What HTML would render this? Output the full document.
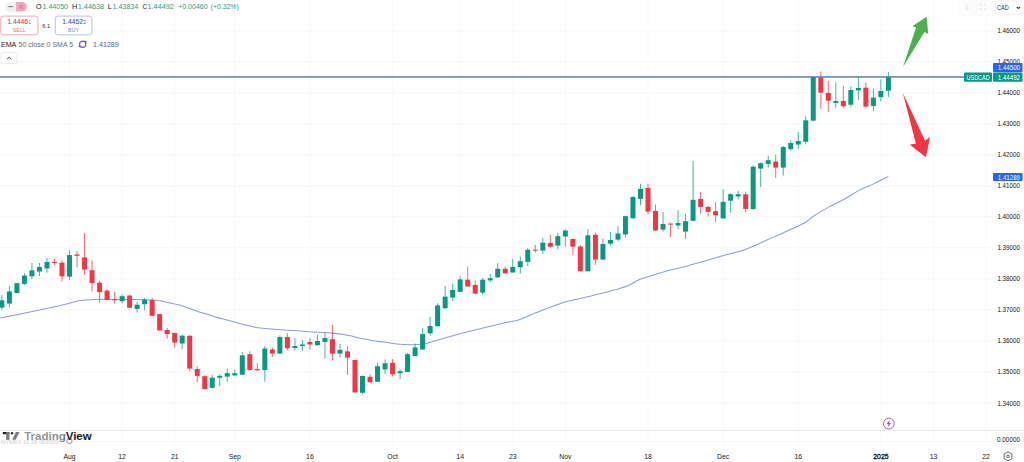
<!DOCTYPE html>
<html><head><meta charset="utf-8"><title>USDCAD chart</title>
<style>
html,body{margin:0;padding:0;background:#fff;}
body{width:1024px;height:462px;overflow:hidden;position:relative;font-family:"Liberation Sans",sans-serif;}
svg{position:absolute;left:0;top:0;}
svg text{font-family:"Liberation Sans",sans-serif;}
</style></head><body>
<svg width="1024" height="462" viewBox="0 0 1024 462">
<rect x="0" y="0" width="1024" height="462" fill="#ffffff"/>

<g stroke="#f5f5f5" stroke-width="1">
<line x1="0" y1="30.80" x2="992" y2="30.80"/>
<line x1="0" y1="61.81" x2="992" y2="61.81"/>
<line x1="0" y1="92.82" x2="992" y2="92.82"/>
<line x1="0" y1="123.82" x2="992" y2="123.82"/>
<line x1="0" y1="154.83" x2="992" y2="154.83"/>
<line x1="0" y1="185.84" x2="992" y2="185.84"/>
<line x1="0" y1="216.85" x2="992" y2="216.85"/>
<line x1="0" y1="247.86" x2="992" y2="247.86"/>
<line x1="0" y1="278.86" x2="992" y2="278.86"/>
<line x1="0" y1="309.87" x2="992" y2="309.87"/>
<line x1="0" y1="340.88" x2="992" y2="340.88"/>
<line x1="0" y1="371.89" x2="992" y2="371.89"/>
<line x1="0" y1="402.90" x2="992" y2="402.90"/>
</g><g stroke="#f9f9f9" stroke-width="1">
<line x1="69.50" y1="0" x2="69.50" y2="446"/>
<line x1="122.09" y1="0" x2="122.09" y2="446"/>
<line x1="174.68" y1="0" x2="174.68" y2="446"/>
<line x1="234.78" y1="0" x2="234.78" y2="446"/>
<line x1="309.91" y1="0" x2="309.91" y2="446"/>
<line x1="392.56" y1="0" x2="392.56" y2="446"/>
<line x1="460.17" y1="0" x2="460.17" y2="446"/>
<line x1="512.76" y1="0" x2="512.76" y2="446"/>
<line x1="565.36" y1="0" x2="565.36" y2="446"/>
<line x1="648.00" y1="0" x2="648.00" y2="446"/>
<line x1="723.13" y1="0" x2="723.13" y2="446"/>
<line x1="798.26" y1="0" x2="798.26" y2="446"/>
<line x1="880.90" y1="0" x2="880.90" y2="446"/>
<line x1="933.49" y1="0" x2="933.49" y2="446"/>
<line x1="986.08" y1="0" x2="986.08" y2="446"/>
</g>
<rect x="958" y="0" width="36" height="16" fill="#fcfcfc"/>
<line x1="0" y1="430.5" x2="1024" y2="430.5" stroke="#ebebeb" stroke-width="1"/>
<line x1="0" y1="441.5" x2="992" y2="441.5" stroke="#f7f7f7" stroke-width="1"/>
<path d="M0.00,318.10 C4.17,317.27 16.67,314.82 25.00,313.10 C33.33,311.38 42.50,309.47 50.00,307.80 C57.50,306.13 65.00,304.30 70.00,303.10 C75.00,301.90 75.83,301.22 80.00,300.60 C84.17,299.98 89.58,299.60 95.00,299.40 C100.42,299.20 107.00,299.38 112.50,299.40 C118.00,299.42 121.25,299.40 128.00,299.50 C134.75,299.60 146.75,299.60 153.00,300.00 C159.25,300.40 160.92,301.02 165.50,301.90 C170.08,302.78 176.33,304.15 180.50,305.30 C184.67,306.45 186.75,307.50 190.50,308.80 C194.25,310.10 198.83,311.75 203.00,313.10 C207.17,314.45 211.33,315.70 215.50,316.90 C219.67,318.10 223.83,319.15 228.00,320.30 C232.17,321.45 235.83,322.62 240.50,323.80 C245.17,324.98 251.33,326.57 256.00,327.40 C260.67,328.23 264.33,328.40 268.50,328.80 C272.67,329.20 276.83,329.50 281.00,329.80 C285.17,330.10 289.33,330.32 293.50,330.60 C297.67,330.88 301.83,331.22 306.00,331.50 C310.17,331.78 314.33,332.03 318.50,332.30 C322.67,332.57 326.83,332.75 331.00,333.10 C335.17,333.45 339.75,333.83 343.50,334.40 C347.25,334.97 350.42,335.80 353.50,336.50 C356.58,337.20 358.45,337.85 362.00,338.60 C365.55,339.35 371.13,340.42 374.80,341.00 C378.47,341.58 380.30,341.60 384.00,342.10 C387.70,342.60 392.67,343.55 397.00,344.00 C401.33,344.45 405.67,344.78 410.00,344.80 C414.33,344.82 418.67,344.80 423.00,344.10 C427.33,343.40 431.67,341.82 436.00,340.60 C440.33,339.38 444.67,338.02 449.00,336.80 C453.33,335.58 457.67,334.43 462.00,333.30 C466.33,332.17 470.67,331.08 475.00,330.00 C479.33,328.92 483.70,327.83 488.00,326.80 C492.30,325.77 496.80,324.70 500.80,323.80 C504.80,322.90 509.05,322.05 512.00,321.40 C514.95,320.75 514.17,321.48 518.50,319.90 C522.83,318.32 530.42,314.85 538.00,311.90 C545.58,308.95 557.50,304.32 564.00,302.20 C570.50,300.08 572.67,300.18 577.00,299.20 C581.33,298.22 585.67,297.32 590.00,296.30 C594.33,295.28 598.67,294.22 603.00,293.10 C607.33,291.98 611.67,290.90 616.00,289.60 C620.33,288.30 625.00,287.03 629.00,285.30 C633.00,283.57 636.00,280.88 640.00,279.20 C644.00,277.52 648.67,276.52 653.00,275.20 C657.33,273.88 660.60,272.75 666.00,271.30 C671.40,269.85 678.90,268.23 685.40,266.50 C691.90,264.77 698.50,262.77 705.00,260.90 C711.50,259.03 717.92,257.13 724.40,255.30 C730.88,253.47 738.50,251.67 743.90,249.90 C749.30,248.13 752.78,246.43 756.80,244.70 C760.82,242.97 763.62,241.47 768.00,239.50 C772.38,237.53 777.03,235.65 783.10,232.90 C789.17,230.15 799.35,225.78 804.40,223.00 C809.45,220.22 809.37,218.85 813.40,216.20 C817.43,213.55 823.55,209.88 828.60,207.10 C833.65,204.32 838.65,202.28 843.70,199.50 C848.75,196.72 853.85,193.05 858.90,190.40 C863.95,187.75 869.08,185.93 874.00,183.60 C878.92,181.27 886.00,177.60 888.40,176.40" fill="none" stroke="#8c9ed8" stroke-width="1.05" stroke-linejoin="round"/>
<rect x="1.38" y="295.20" width="1" height="14.40" fill="#089981" opacity="0.75"/>
<rect x="-0.62" y="300.30" width="5.00" height="7.30" fill="#089981"/>
<rect x="8.89" y="286.20" width="1" height="21.20" fill="#089981" opacity="0.75"/>
<rect x="6.89" y="291.50" width="5.00" height="12.10" fill="#089981"/>
<rect x="16.41" y="283.00" width="1" height="10.20" fill="#089981" opacity="0.75"/>
<rect x="14.41" y="283.20" width="5.00" height="9.80" fill="#089981"/>
<rect x="23.92" y="273.30" width="1" height="11.80" fill="#089981" opacity="0.75"/>
<rect x="21.92" y="275.60" width="5.00" height="8.30" fill="#089981"/>
<rect x="31.43" y="263.00" width="1" height="16.00" fill="#089981" opacity="0.75"/>
<rect x="29.43" y="270.30" width="5.00" height="6.00" fill="#089981"/>
<rect x="38.95" y="263.00" width="1" height="13.00" fill="#089981" opacity="0.75"/>
<rect x="36.95" y="267.00" width="5.00" height="4.50" fill="#089981"/>
<rect x="46.46" y="257.90" width="1" height="14.70" fill="#089981" opacity="0.75"/>
<rect x="44.46" y="262.00" width="5.00" height="6.50" fill="#089981"/>
<rect x="53.97" y="258.50" width="1" height="6.90" fill="#f23645" opacity="0.75"/>
<rect x="51.97" y="262.00" width="5.00" height="1.00" fill="#f23645"/>
<rect x="61.48" y="260.40" width="1" height="21.20" fill="#f23645" opacity="0.75"/>
<rect x="59.48" y="262.70" width="5.00" height="13.60" fill="#f23645"/>
<rect x="69.00" y="250.60" width="1" height="29.50" fill="#089981" opacity="0.75"/>
<rect x="67.00" y="255.10" width="5.00" height="21.50" fill="#089981"/>
<rect x="76.51" y="250.90" width="1" height="16.40" fill="#f23645" opacity="0.75"/>
<rect x="74.51" y="254.40" width="5.00" height="1.40" fill="#f23645"/>
<rect x="84.02" y="233.20" width="1" height="41.60" fill="#f23645" opacity="0.75"/>
<rect x="82.02" y="257.40" width="5.00" height="12.10" fill="#f23645"/>
<rect x="91.54" y="260.30" width="1" height="31.10" fill="#f23645" opacity="0.75"/>
<rect x="89.54" y="270.20" width="5.00" height="12.90" fill="#f23645"/>
<rect x="99.05" y="281.00" width="1" height="21.70" fill="#f23645" opacity="0.75"/>
<rect x="97.05" y="282.70" width="5.00" height="9.40" fill="#f23645"/>
<rect x="106.56" y="289.00" width="1" height="11.40" fill="#f23645" opacity="0.75"/>
<rect x="104.56" y="290.60" width="5.00" height="9.10" fill="#f23645"/>
<rect x="114.07" y="291.80" width="1" height="11.70" fill="#f23645" opacity="0.75"/>
<rect x="112.07" y="299.20" width="5.00" height="1.00" fill="#f23645"/>
<rect x="121.59" y="294.40" width="1" height="9.10" fill="#089981" opacity="0.75"/>
<rect x="119.59" y="296.20" width="5.00" height="5.00" fill="#089981"/>
<rect x="129.10" y="294.70" width="1" height="13.30" fill="#f23645" opacity="0.75"/>
<rect x="127.10" y="295.60" width="5.00" height="12.10" fill="#f23645"/>
<rect x="136.61" y="302.00" width="1" height="10.50" fill="#089981" opacity="0.75"/>
<rect x="134.61" y="304.70" width="5.00" height="4.10" fill="#089981"/>
<rect x="144.13" y="297.90" width="1" height="12.40" fill="#089981" opacity="0.75"/>
<rect x="142.13" y="299.70" width="5.00" height="4.50" fill="#089981"/>
<rect x="151.64" y="297.70" width="1" height="18.20" fill="#f23645" opacity="0.75"/>
<rect x="149.64" y="300.10" width="5.00" height="15.70" fill="#f23645"/>
<rect x="159.15" y="314.00" width="1" height="16.50" fill="#f23645" opacity="0.75"/>
<rect x="157.15" y="314.10" width="5.00" height="16.30" fill="#f23645"/>
<rect x="166.67" y="328.00" width="1" height="10.60" fill="#f23645" opacity="0.75"/>
<rect x="164.67" y="330.00" width="5.00" height="4.10" fill="#f23645"/>
<rect x="174.18" y="332.60" width="1" height="15.10" fill="#f23645" opacity="0.75"/>
<rect x="172.18" y="333.00" width="5.00" height="9.60" fill="#f23645"/>
<rect x="181.69" y="334.50" width="1" height="14.40" fill="#089981" opacity="0.75"/>
<rect x="179.69" y="335.70" width="5.00" height="7.80" fill="#089981"/>
<rect x="189.20" y="335.00" width="1" height="36.20" fill="#f23645" opacity="0.75"/>
<rect x="187.20" y="335.80" width="5.00" height="32.80" fill="#f23645"/>
<rect x="196.72" y="366.30" width="1" height="15.90" fill="#f23645" opacity="0.75"/>
<rect x="194.72" y="369.00" width="5.00" height="6.90" fill="#f23645"/>
<rect x="204.23" y="375.10" width="1" height="14.30" fill="#f23645" opacity="0.75"/>
<rect x="202.23" y="376.20" width="5.00" height="12.90" fill="#f23645"/>
<rect x="211.74" y="374.70" width="1" height="14.10" fill="#089981" opacity="0.75"/>
<rect x="209.74" y="377.70" width="5.00" height="10.10" fill="#089981"/>
<rect x="219.26" y="374.20" width="1" height="12.10" fill="#089981" opacity="0.75"/>
<rect x="217.26" y="375.90" width="5.00" height="1.80" fill="#089981"/>
<rect x="226.77" y="368.60" width="1" height="12.90" fill="#089981" opacity="0.75"/>
<rect x="224.77" y="373.20" width="5.00" height="3.40" fill="#089981"/>
<rect x="234.28" y="369.70" width="1" height="6.00" fill="#089981" opacity="0.75"/>
<rect x="232.28" y="373.20" width="5.00" height="2.20" fill="#089981"/>
<rect x="241.80" y="352.00" width="1" height="22.90" fill="#089981" opacity="0.75"/>
<rect x="239.80" y="355.40" width="5.00" height="19.30" fill="#089981"/>
<rect x="249.31" y="351.20" width="1" height="19.40" fill="#f23645" opacity="0.75"/>
<rect x="247.31" y="354.20" width="5.00" height="15.90" fill="#f23645"/>
<rect x="256.82" y="363.30" width="1" height="7.30" fill="#f23645" opacity="0.75"/>
<rect x="254.82" y="369.20" width="5.00" height="1.20" fill="#f23645"/>
<rect x="264.33" y="346.00" width="1" height="35.70" fill="#089981" opacity="0.75"/>
<rect x="262.33" y="348.50" width="5.00" height="21.50" fill="#089981"/>
<rect x="271.85" y="347.50" width="1" height="9.50" fill="#f23645" opacity="0.75"/>
<rect x="269.85" y="349.60" width="5.00" height="3.90" fill="#f23645"/>
<rect x="279.36" y="335.40" width="1" height="18.40" fill="#089981" opacity="0.75"/>
<rect x="277.36" y="337.00" width="5.00" height="16.60" fill="#089981"/>
<rect x="286.87" y="333.20" width="1" height="17.40" fill="#f23645" opacity="0.75"/>
<rect x="284.87" y="337.00" width="5.00" height="11.30" fill="#f23645"/>
<rect x="294.39" y="338.50" width="1" height="12.10" fill="#089981" opacity="0.75"/>
<rect x="292.39" y="346.00" width="5.00" height="2.00" fill="#089981"/>
<rect x="301.90" y="340.00" width="1" height="10.90" fill="#089981" opacity="0.75"/>
<rect x="299.90" y="344.50" width="5.00" height="1.50" fill="#089981"/>
<rect x="309.41" y="338.00" width="1" height="11.50" fill="#f23645" opacity="0.75"/>
<rect x="307.41" y="342.00" width="5.00" height="2.50" fill="#f23645"/>
<rect x="316.93" y="334.70" width="1" height="10.80" fill="#089981" opacity="0.75"/>
<rect x="314.93" y="341.00" width="5.00" height="4.30" fill="#089981"/>
<rect x="324.44" y="332.90" width="1" height="25.70" fill="#089981" opacity="0.75"/>
<rect x="322.44" y="338.00" width="5.00" height="4.00" fill="#089981"/>
<rect x="331.95" y="324.80" width="1" height="35.60" fill="#f23645" opacity="0.75"/>
<rect x="329.95" y="339.20" width="5.00" height="14.40" fill="#f23645"/>
<rect x="339.46" y="343.80" width="1" height="13.60" fill="#089981" opacity="0.75"/>
<rect x="337.46" y="349.80" width="5.00" height="3.80" fill="#089981"/>
<rect x="346.98" y="346.10" width="1" height="28.90" fill="#f23645" opacity="0.75"/>
<rect x="344.98" y="351.40" width="5.00" height="6.20" fill="#f23645"/>
<rect x="354.49" y="359.70" width="1" height="32.90" fill="#f23645" opacity="0.75"/>
<rect x="352.49" y="360.00" width="5.00" height="32.40" fill="#f23645"/>
<rect x="362.00" y="375.40" width="1" height="19.00" fill="#089981" opacity="0.75"/>
<rect x="360.00" y="376.00" width="5.00" height="16.80" fill="#089981"/>
<rect x="369.52" y="374.20" width="1" height="9.10" fill="#f23645" opacity="0.75"/>
<rect x="367.52" y="376.80" width="5.00" height="5.40" fill="#f23645"/>
<rect x="377.03" y="362.90" width="1" height="19.30" fill="#089981" opacity="0.75"/>
<rect x="375.03" y="366.20" width="5.00" height="15.60" fill="#089981"/>
<rect x="384.54" y="359.50" width="1" height="14.70" fill="#089981" opacity="0.75"/>
<rect x="382.54" y="363.30" width="5.00" height="6.10" fill="#089981"/>
<rect x="392.06" y="359.10" width="1" height="17.40" fill="#f23645" opacity="0.75"/>
<rect x="390.06" y="362.90" width="5.00" height="11.30" fill="#f23645"/>
<rect x="399.57" y="368.90" width="1" height="10.30" fill="#089981" opacity="0.75"/>
<rect x="397.57" y="371.20" width="5.00" height="2.00" fill="#089981"/>
<rect x="407.08" y="353.00" width="1" height="19.00" fill="#089981" opacity="0.75"/>
<rect x="405.08" y="354.20" width="5.00" height="17.70" fill="#089981"/>
<rect x="414.59" y="343.50" width="1" height="12.70" fill="#089981" opacity="0.75"/>
<rect x="412.59" y="347.40" width="5.00" height="8.60" fill="#089981"/>
<rect x="422.11" y="328.00" width="1" height="21.60" fill="#089981" opacity="0.75"/>
<rect x="420.11" y="334.10" width="5.00" height="15.40" fill="#089981"/>
<rect x="429.62" y="316.80" width="1" height="18.80" fill="#089981" opacity="0.75"/>
<rect x="427.62" y="326.00" width="5.00" height="7.30" fill="#089981"/>
<rect x="437.13" y="303.20" width="1" height="23.30" fill="#089981" opacity="0.75"/>
<rect x="435.13" y="305.40" width="5.00" height="20.90" fill="#089981"/>
<rect x="444.65" y="286.00" width="1" height="23.20" fill="#089981" opacity="0.75"/>
<rect x="442.65" y="296.60" width="5.00" height="11.60" fill="#089981"/>
<rect x="452.16" y="283.50" width="1" height="17.70" fill="#089981" opacity="0.75"/>
<rect x="450.16" y="290.00" width="5.00" height="7.60" fill="#089981"/>
<rect x="459.67" y="276.40" width="1" height="15.60" fill="#089981" opacity="0.75"/>
<rect x="457.67" y="279.40" width="5.00" height="12.40" fill="#089981"/>
<rect x="467.19" y="266.40" width="1" height="20.60" fill="#f23645" opacity="0.75"/>
<rect x="465.19" y="279.70" width="5.00" height="6.80" fill="#f23645"/>
<rect x="474.70" y="280.40" width="1" height="13.60" fill="#f23645" opacity="0.75"/>
<rect x="472.70" y="285.00" width="5.00" height="8.60" fill="#f23645"/>
<rect x="482.21" y="277.90" width="1" height="16.60" fill="#089981" opacity="0.75"/>
<rect x="480.21" y="279.70" width="5.00" height="12.90" fill="#089981"/>
<rect x="489.72" y="273.90" width="1" height="8.50" fill="#089981" opacity="0.75"/>
<rect x="487.72" y="278.20" width="5.00" height="2.20" fill="#089981"/>
<rect x="497.24" y="263.00" width="1" height="14.60" fill="#089981" opacity="0.75"/>
<rect x="495.24" y="268.80" width="5.00" height="8.60" fill="#089981"/>
<rect x="504.75" y="266.40" width="1" height="7.20" fill="#f23645" opacity="0.75"/>
<rect x="502.75" y="268.80" width="5.00" height="4.50" fill="#f23645"/>
<rect x="512.26" y="258.90" width="1" height="13.70" fill="#089981" opacity="0.75"/>
<rect x="510.26" y="266.90" width="5.00" height="5.60" fill="#089981"/>
<rect x="519.78" y="256.60" width="1" height="17.20" fill="#089981" opacity="0.75"/>
<rect x="517.78" y="261.20" width="5.00" height="6.00" fill="#089981"/>
<rect x="527.29" y="248.00" width="1" height="18.20" fill="#089981" opacity="0.75"/>
<rect x="525.29" y="249.80" width="5.00" height="12.10" fill="#089981"/>
<rect x="534.80" y="245.00" width="1" height="7.60" fill="#f23645" opacity="0.75"/>
<rect x="532.80" y="249.60" width="5.00" height="1.00" fill="#f23645"/>
<rect x="542.32" y="238.00" width="1" height="16.10" fill="#089981" opacity="0.75"/>
<rect x="540.32" y="242.70" width="5.00" height="7.90" fill="#089981"/>
<rect x="549.83" y="234.70" width="1" height="13.30" fill="#f23645" opacity="0.75"/>
<rect x="547.83" y="243.00" width="5.00" height="3.80" fill="#f23645"/>
<rect x="557.34" y="232.90" width="1" height="16.60" fill="#089981" opacity="0.75"/>
<rect x="555.34" y="236.20" width="5.00" height="9.40" fill="#089981"/>
<rect x="564.86" y="229.40" width="1" height="17.10" fill="#089981" opacity="0.75"/>
<rect x="562.86" y="230.60" width="5.00" height="5.90" fill="#089981"/>
<rect x="572.37" y="238.50" width="1" height="16.30" fill="#f23645" opacity="0.75"/>
<rect x="570.37" y="239.00" width="5.00" height="7.70" fill="#f23645"/>
<rect x="579.88" y="245.00" width="1" height="26.50" fill="#f23645" opacity="0.75"/>
<rect x="577.88" y="246.50" width="5.00" height="24.80" fill="#f23645"/>
<rect x="587.39" y="229.00" width="1" height="42.50" fill="#089981" opacity="0.75"/>
<rect x="585.39" y="235.30" width="5.00" height="36.00" fill="#089981"/>
<rect x="594.91" y="232.60" width="1" height="32.20" fill="#f23645" opacity="0.75"/>
<rect x="592.91" y="234.80" width="5.00" height="24.80" fill="#f23645"/>
<rect x="602.42" y="238.70" width="1" height="21.10" fill="#089981" opacity="0.75"/>
<rect x="600.42" y="244.00" width="5.00" height="15.60" fill="#089981"/>
<rect x="609.93" y="232.00" width="1" height="13.70" fill="#089981" opacity="0.75"/>
<rect x="607.93" y="240.00" width="5.00" height="3.60" fill="#089981"/>
<rect x="617.45" y="226.20" width="1" height="15.30" fill="#089981" opacity="0.75"/>
<rect x="615.45" y="233.50" width="5.00" height="6.10" fill="#089981"/>
<rect x="624.96" y="215.60" width="1" height="21.80" fill="#089981" opacity="0.75"/>
<rect x="622.96" y="216.20" width="5.00" height="18.20" fill="#089981"/>
<rect x="632.47" y="196.20" width="1" height="22.70" fill="#089981" opacity="0.75"/>
<rect x="630.47" y="197.00" width="5.00" height="21.20" fill="#089981"/>
<rect x="639.99" y="183.80" width="1" height="21.50" fill="#089981" opacity="0.75"/>
<rect x="637.99" y="188.90" width="5.00" height="10.00" fill="#089981"/>
<rect x="647.50" y="183.80" width="1" height="30.90" fill="#f23645" opacity="0.75"/>
<rect x="645.50" y="187.90" width="5.00" height="23.70" fill="#f23645"/>
<rect x="655.01" y="204.50" width="1" height="26.20" fill="#f23645" opacity="0.75"/>
<rect x="653.01" y="211.00" width="5.00" height="19.50" fill="#f23645"/>
<rect x="662.52" y="212.00" width="1" height="19.70" fill="#089981" opacity="0.75"/>
<rect x="660.52" y="224.00" width="5.00" height="5.60" fill="#089981"/>
<rect x="670.04" y="222.80" width="1" height="14.20" fill="#f23645" opacity="0.75"/>
<rect x="668.04" y="223.60" width="5.00" height="1.00" fill="#f23645"/>
<rect x="677.55" y="210.00" width="1" height="19.40" fill="#089981" opacity="0.75"/>
<rect x="675.55" y="223.00" width="5.00" height="2.50" fill="#089981"/>
<rect x="685.06" y="214.10" width="1" height="24.80" fill="#089981" opacity="0.75"/>
<rect x="683.06" y="221.20" width="5.00" height="10.40" fill="#089981"/>
<rect x="692.58" y="160.90" width="1" height="60.10" fill="#089981" opacity="0.75"/>
<rect x="690.58" y="199.80" width="5.00" height="21.00" fill="#089981"/>
<rect x="700.09" y="192.10" width="1" height="21.40" fill="#f23645" opacity="0.75"/>
<rect x="698.09" y="199.00" width="5.00" height="8.10" fill="#f23645"/>
<rect x="707.60" y="206.00" width="1" height="10.40" fill="#f23645" opacity="0.75"/>
<rect x="705.60" y="207.00" width="5.00" height="4.80" fill="#f23645"/>
<rect x="715.12" y="202.10" width="1" height="19.80" fill="#f23645" opacity="0.75"/>
<rect x="713.12" y="211.20" width="5.00" height="4.20" fill="#f23645"/>
<rect x="722.63" y="189.10" width="1" height="29.40" fill="#089981" opacity="0.75"/>
<rect x="720.63" y="201.80" width="5.00" height="16.60" fill="#089981"/>
<rect x="730.14" y="193.20" width="1" height="19.60" fill="#089981" opacity="0.75"/>
<rect x="728.14" y="194.20" width="5.00" height="6.50" fill="#089981"/>
<rect x="737.65" y="190.70" width="1" height="8.80" fill="#089981" opacity="0.75"/>
<rect x="735.65" y="194.10" width="5.00" height="2.30" fill="#089981"/>
<rect x="745.17" y="191.60" width="1" height="20.50" fill="#f23645" opacity="0.75"/>
<rect x="743.17" y="194.30" width="5.00" height="14.60" fill="#f23645"/>
<rect x="752.68" y="165.40" width="1" height="43.90" fill="#089981" opacity="0.75"/>
<rect x="750.68" y="166.70" width="5.00" height="42.40" fill="#089981"/>
<rect x="760.19" y="162.30" width="1" height="24.70" fill="#089981" opacity="0.75"/>
<rect x="758.19" y="163.20" width="5.00" height="5.40" fill="#089981"/>
<rect x="767.71" y="155.90" width="1" height="11.80" fill="#089981" opacity="0.75"/>
<rect x="765.71" y="160.20" width="5.00" height="3.80" fill="#089981"/>
<rect x="775.22" y="154.70" width="1" height="23.50" fill="#f23645" opacity="0.75"/>
<rect x="773.22" y="161.60" width="5.00" height="6.00" fill="#f23645"/>
<rect x="782.73" y="146.00" width="1" height="29.50" fill="#089981" opacity="0.75"/>
<rect x="780.73" y="147.10" width="5.00" height="20.50" fill="#089981"/>
<rect x="790.25" y="140.30" width="1" height="10.60" fill="#089981" opacity="0.75"/>
<rect x="788.25" y="143.00" width="5.00" height="6.10" fill="#089981"/>
<rect x="797.76" y="132.00" width="1" height="16.60" fill="#089981" opacity="0.75"/>
<rect x="795.76" y="141.00" width="5.00" height="3.50" fill="#089981"/>
<rect x="805.27" y="116.30" width="1" height="27.80" fill="#089981" opacity="0.75"/>
<rect x="803.27" y="120.30" width="5.00" height="21.50" fill="#089981"/>
<rect x="812.78" y="76.80" width="1" height="44.50" fill="#089981" opacity="0.75"/>
<rect x="810.78" y="77.00" width="5.00" height="43.60" fill="#089981"/>
<rect x="820.30" y="71.40" width="1" height="37.50" fill="#f23645" opacity="0.75"/>
<rect x="818.30" y="77.40" width="5.00" height="15.20" fill="#f23645"/>
<rect x="827.81" y="80.90" width="1" height="31.00" fill="#f23645" opacity="0.75"/>
<rect x="825.81" y="93.00" width="5.00" height="7.60" fill="#f23645"/>
<rect x="835.32" y="82.40" width="1" height="25.30" fill="#089981" opacity="0.75"/>
<rect x="833.32" y="101.00" width="5.00" height="1.90" fill="#089981"/>
<rect x="842.84" y="85.90" width="1" height="21.80" fill="#f23645" opacity="0.75"/>
<rect x="840.84" y="101.00" width="5.00" height="5.20" fill="#f23645"/>
<rect x="850.35" y="86.20" width="1" height="21.20" fill="#089981" opacity="0.75"/>
<rect x="848.35" y="90.00" width="5.00" height="14.70" fill="#089981"/>
<rect x="857.86" y="77.10" width="1" height="22.70" fill="#089981" opacity="0.75"/>
<rect x="855.86" y="88.00" width="5.00" height="2.40" fill="#089981"/>
<rect x="865.38" y="82.40" width="1" height="25.80" fill="#f23645" opacity="0.75"/>
<rect x="863.38" y="87.70" width="5.00" height="18.90" fill="#f23645"/>
<rect x="872.89" y="88.90" width="1" height="22.30" fill="#089981" opacity="0.75"/>
<rect x="870.89" y="97.60" width="5.00" height="8.30" fill="#089981"/>
<rect x="880.40" y="79.40" width="1" height="22.20" fill="#089981" opacity="0.75"/>
<rect x="878.40" y="91.00" width="5.00" height="6.10" fill="#089981"/>
<rect x="887.91" y="71.80" width="1" height="25.30" fill="#089981" opacity="0.75"/>
<rect x="885.91" y="76.80" width="5.00" height="13.90" fill="#089981"/>
<rect x="0" y="76.2" width="964" height="1.5" fill="#5f7fae"/>
<polygon points="903,67.1 916,27.5 912.3,26.2 926.6,16.8 928.3,34 924.4,32.1" fill="#4cb050"/>
<polygon points="902.9,92.9 925,140.7 930.1,137.1 925.9,157.3 909.9,144.8 915.8,143.5" fill="#f23645"/>
<text x="1020.00" y="33.40" font-size="7.3" fill="#131722" text-anchor="end" textLength="22.60" lengthAdjust="spacingAndGlyphs">1.46000</text>
<text x="1020.00" y="64.41" font-size="7.3" fill="#131722" text-anchor="end" textLength="22.60" lengthAdjust="spacingAndGlyphs">1.45000</text>
<text x="1020.00" y="95.42" font-size="7.3" fill="#131722" text-anchor="end" textLength="22.60" lengthAdjust="spacingAndGlyphs">1.44000</text>
<text x="1020.00" y="126.42" font-size="7.3" fill="#131722" text-anchor="end" textLength="22.60" lengthAdjust="spacingAndGlyphs">1.43000</text>
<text x="1020.00" y="157.43" font-size="7.3" fill="#131722" text-anchor="end" textLength="22.60" lengthAdjust="spacingAndGlyphs">1.42000</text>
<text x="1020.00" y="188.44" font-size="7.3" fill="#131722" text-anchor="end" textLength="22.60" lengthAdjust="spacingAndGlyphs">1.41000</text>
<text x="1020.00" y="219.45" font-size="7.3" fill="#131722" text-anchor="end" textLength="22.60" lengthAdjust="spacingAndGlyphs">1.40000</text>
<text x="1020.00" y="250.46" font-size="7.3" fill="#131722" text-anchor="end" textLength="22.60" lengthAdjust="spacingAndGlyphs">1.39000</text>
<text x="1020.00" y="281.46" font-size="7.3" fill="#131722" text-anchor="end" textLength="22.60" lengthAdjust="spacingAndGlyphs">1.38000</text>
<text x="1020.00" y="312.47" font-size="7.3" fill="#131722" text-anchor="end" textLength="22.60" lengthAdjust="spacingAndGlyphs">1.37000</text>
<text x="1020.00" y="343.48" font-size="7.3" fill="#131722" text-anchor="end" textLength="22.60" lengthAdjust="spacingAndGlyphs">1.36000</text>
<text x="1020.00" y="374.49" font-size="7.3" fill="#131722" text-anchor="end" textLength="22.60" lengthAdjust="spacingAndGlyphs">1.35000</text>
<text x="1020.00" y="405.50" font-size="7.3" fill="#131722" text-anchor="end" textLength="22.60" lengthAdjust="spacingAndGlyphs">1.34000</text>
<text x="1020.00" y="442.10" font-size="7.3" fill="#131722" text-anchor="end" textLength="23.00" lengthAdjust="spacingAndGlyphs">0.00000</text>
<rect x="993" y="63" width="29.5" height="9.3" rx="1" fill="#2962ff"/>
<text x="1020.00" y="70.30" font-size="7.3" fill="#fff" text-anchor="end" textLength="22.20" lengthAdjust="spacingAndGlyphs">1.44500</text>
<rect x="993" y="72.5" width="29.5" height="9.3" rx="1" fill="#089981"/>
<text x="1020.00" y="79.80" font-size="7.3" fill="#fff" text-anchor="end" textLength="22.20" lengthAdjust="spacingAndGlyphs">1.44492</text>
<rect x="964" y="72.5" width="28" height="9.3" rx="1" fill="#089981"/>
<text x="978.10" y="79.80" font-size="7.3" fill="#fff" text-anchor="middle" textLength="23.00" lengthAdjust="spacingAndGlyphs">USDCAD</text>
<rect x="993" y="173" width="29.5" height="8" rx="1" fill="#2962ff"/>
<text x="1020.00" y="179.60" font-size="7.3" fill="#fff" text-anchor="end" textLength="22.20" lengthAdjust="spacingAndGlyphs">1.41289</text>
<text x="69.50" y="458.80" font-size="7.6" fill="#131722" text-anchor="middle" textLength="12.17" lengthAdjust="spacingAndGlyphs">Aug</text>
<text x="122.09" y="458.80" font-size="7.6" fill="#131722" text-anchor="middle" textLength="7.61" lengthAdjust="spacingAndGlyphs">12</text>
<text x="174.68" y="458.80" font-size="7.6" fill="#131722" text-anchor="middle" textLength="7.61" lengthAdjust="spacingAndGlyphs">21</text>
<text x="234.78" y="458.80" font-size="7.6" fill="#131722" text-anchor="middle" textLength="12.17" lengthAdjust="spacingAndGlyphs">Sep</text>
<text x="309.91" y="458.80" font-size="7.6" fill="#131722" text-anchor="middle" textLength="7.61" lengthAdjust="spacingAndGlyphs">16</text>
<text x="392.56" y="458.80" font-size="7.6" fill="#131722" text-anchor="middle" textLength="10.64" lengthAdjust="spacingAndGlyphs">Oct</text>
<text x="460.17" y="458.80" font-size="7.6" fill="#131722" text-anchor="middle" textLength="7.61" lengthAdjust="spacingAndGlyphs">14</text>
<text x="512.76" y="458.80" font-size="7.6" fill="#131722" text-anchor="middle" textLength="7.61" lengthAdjust="spacingAndGlyphs">23</text>
<text x="565.36" y="458.80" font-size="7.6" fill="#131722" text-anchor="middle" textLength="12.16" lengthAdjust="spacingAndGlyphs">Nov</text>
<text x="648.00" y="458.80" font-size="7.6" fill="#131722" text-anchor="middle" textLength="7.61" lengthAdjust="spacingAndGlyphs">18</text>
<text x="723.13" y="458.80" font-size="7.6" fill="#131722" text-anchor="middle" textLength="12.16" lengthAdjust="spacingAndGlyphs">Dec</text>
<text x="798.26" y="458.80" font-size="7.6" fill="#131722" text-anchor="middle" textLength="7.61" lengthAdjust="spacingAndGlyphs">16</text>
<text x="880.90" y="458.80" font-size="7.6" fill="#131722" text-anchor="middle" textLength="15.22" lengthAdjust="spacingAndGlyphs" stroke="#131722" stroke-width="0.35">2025</text>
<text x="933.49" y="458.80" font-size="7.6" fill="#131722" text-anchor="middle" textLength="7.61" lengthAdjust="spacingAndGlyphs">13</text>
<text x="986.08" y="458.80" font-size="7.6" fill="#131722" text-anchor="middle" textLength="7.61" lengthAdjust="spacingAndGlyphs">22</text>
<g fill="none" stroke="#555" stroke-width="0.9"><polygon points="1008,451.8 1011.9,454 1011.9,458.6 1008,460.8 1004.1,458.6 1004.1,454"/><circle cx="1008" cy="456.3" r="1.3"/></g>
<circle cx="888.8" cy="423.6" r="5.4" fill="#fff" stroke="#a35bcc" stroke-width="1"/>
<polygon points="889.8,419.8 886.6,424.2 888.6,424.2 887.6,427.6 891,423 889,423" fill="#9b4fc4"/>
<rect x="995.5" y="1" width="26.5" height="13" rx="2" fill="#fff" stroke="#ececec" stroke-width="0.8"/>
<text x="997.00" y="9.80" font-size="7.2" fill="#333" textLength="11.60" lengthAdjust="spacingAndGlyphs">CAD</text>
<path d="M1016.6,6.8 L1018.4,8.5 L1020.2,6.8" fill="none" stroke="#444" stroke-width="1.1"/>
<g stroke="#e2e2e2" stroke-width="0.8" fill="none"><path d="M967.3,4.5 V9.5 M965,7.5 L967.3,9.7 L969.6,7.5"/><path d="M980.5,6 V4.5 H982 M984,4.5 H985.5 V6 M985.5,8 V9.5 H984 M982,9.5 H980.5 V8"/></g>
<rect x="5" y="2" width="11" height="9.6" rx="4.8" fill="#f0f0f0"/>
<rect x="9" y="2" width="7" height="9.6" fill="#f0f0f0"/>
<path d="M16,2 H22 A4.8,4.8 0 0 1 22,11.6 H16 Z" fill="#f6a5c0"/>
<rect x="8.3" y="6.2" width="5" height="1" fill="#777"/>
<g stroke="#e0305a" stroke-width="0.6" fill="none"><path d="M19.2,5.9 q1,-0.7 2,0 t2,0 M19.2,7.9 q1,-0.7 2,0 t2,0"/></g>
<text x="36.00" y="9.20" font-size="7.2" fill="#131722" textLength="5.60" lengthAdjust="spacingAndGlyphs">O</text>
<text x="42.60" y="9.20" font-size="7.2" fill="#22a08a" textLength="25.40" lengthAdjust="spacingAndGlyphs">1.44050</text>
<text x="72.00" y="9.20" font-size="7.2" fill="#131722" textLength="5.30" lengthAdjust="spacingAndGlyphs">H</text>
<text x="77.70" y="9.20" font-size="7.2" fill="#22a08a" textLength="26.50" lengthAdjust="spacingAndGlyphs">1.44638</text>
<text x="107.80" y="9.20" font-size="7.2" fill="#131722" textLength="3.90" lengthAdjust="spacingAndGlyphs">L</text>
<text x="112.50" y="9.20" font-size="7.2" fill="#22a08a" textLength="25.60" lengthAdjust="spacingAndGlyphs">1.43834</text>
<text x="142.50" y="9.20" font-size="7.2" fill="#131722" textLength="4.40" lengthAdjust="spacingAndGlyphs">C</text>
<text x="147.50" y="9.20" font-size="7.2" fill="#22a08a" textLength="26.30" lengthAdjust="spacingAndGlyphs">1.44492</text>
<text x="178.20" y="9.20" font-size="7.2" fill="#22a08a" textLength="29.40" lengthAdjust="spacingAndGlyphs">+0.00460</text>
<text x="210.60" y="9.20" font-size="7.2" fill="#22a08a" textLength="28.20" lengthAdjust="spacingAndGlyphs">(+0.32%)</text>
<rect x="0.75" y="16.1" width="37.2" height="18.7" rx="2.5" fill="#fff" stroke="#eea0aa" stroke-width="0.9"/>
<text x="7.5" y="24.2" font-size="6.8" fill="#d9435c" stroke="#d9435c" stroke-width="0.12" textLength="20.6" lengthAdjust="spacingAndGlyphs">1.4446</text><text x="28.4" y="23.6" font-size="4.6" fill="#d9435c">1</text>
<text x="19.30" y="32.30" font-size="6.0" fill="#e6707e" text-anchor="middle" textLength="13.00" lengthAdjust="spacingAndGlyphs">SELL</text>
<text x="42.20" y="28.10" font-size="5.5" fill="#333" textLength="8.00" lengthAdjust="spacingAndGlyphs">6.1</text>
<rect x="55.3" y="16.1" width="36.6" height="18.7" rx="2.5" fill="#fff" stroke="#a9bde6" stroke-width="0.9"/>
<text x="62.3" y="24.2" font-size="6.8" fill="#4262b8" stroke="#4262b8" stroke-width="0.12" textLength="20.6" lengthAdjust="spacingAndGlyphs">1.4452</text><text x="83.2" y="23.6" font-size="4.6" fill="#4262b8">2</text>
<text x="73.50" y="32.30" font-size="6.0" fill="#6f8ccc" text-anchor="middle" textLength="11.50" lengthAdjust="spacingAndGlyphs">BUY</text>
<text x="0.90" y="47.20" font-size="7.2" fill="#222" textLength="15.50" lengthAdjust="spacingAndGlyphs">EMA</text>
<text x="18.50" y="47.20" font-size="7.2" fill="#6a6d78" textLength="54.60" lengthAdjust="spacingAndGlyphs">50 close 0 SMA 5</text>
<circle cx="82.7" cy="44.2" r="3.1" fill="none" stroke="#7352e6" stroke-width="1.2"/><polygon points="84.6,40.6 87.2,41.6 85.4,43.6" fill="#7352e6"/><polygon points="80.8,47.8 78.2,46.8 80,44.8" fill="#7352e6"/>
<text x="93.00" y="46.90" font-size="7.0" fill="#4f62a0" textLength="25.80" lengthAdjust="spacingAndGlyphs">1.41289</text>
<rect x="1.2" y="52.4" width="15.9" height="10.9" rx="1.5" fill="#fff" stroke="#e6e6e6" stroke-width="0.8"/>
<path d="M7,59.2 L9.2,57.2 L11.4,59.2" fill="none" stroke="#333" stroke-width="0.9"/>
<defs><linearGradient id="lg" x1="0" x2="1" y1="0" y2="0"><stop offset="0" stop-color="#9a9a9a"/><stop offset="0.58" stop-color="#8a8a8a"/><stop offset="0.64" stop-color="#222"/><stop offset="1" stop-color="#1b1b1b"/></linearGradient></defs>
<text x="1.00" y="444.20" font-size="5.6" fill="#d0d0d0" textLength="57.00" lengthAdjust="spacingAndGlyphs">NYMEX 12 28 050509</text>
<g fill="#7a7a7a"><rect x="2.8" y="432" width="6.6" height="2.2" fill="#222"/><rect x="6.1" y="432" width="3.3" height="7.8"/><circle cx="12" cy="433.3" r="1.2" fill="#333"/><polygon points="15.9,432 19.5,432 15.6,439.8 12.3,439.8"/></g>
<circle cx="69.5" cy="441" r="2.6" fill="none" stroke="#555" stroke-width="0.6"/>
<text x="24.20" y="439.80" font-size="10.2" fill="url(#lg)" font-weight="bold" textLength="67.50" lengthAdjust="spacingAndGlyphs">TradingView</text>
</svg>
</body></html>
